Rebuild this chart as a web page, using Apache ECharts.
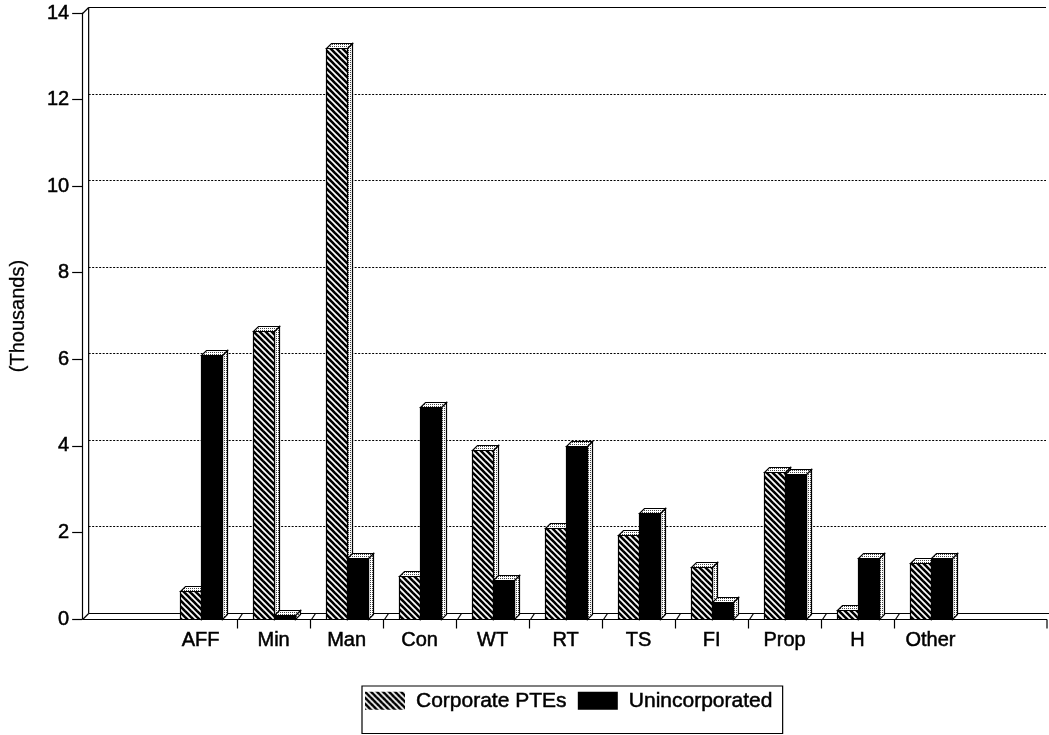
<!DOCTYPE html>
<html>
<head>
<meta charset="utf-8">
<title>Corporate PTEs and Unincorporated by industry</title>
<script src="https://cdn.jsdelivr.net/npm/echarts@6.0.0/dist/echarts.min.js"></script>
<style>
  html, body { margin: 0; padding: 0; background: #fff; }
  #chart { width: 1049px; height: 735px; }
</style>
</head>
<body>
<div id="chart"></div>
<script>
// Industry categories (blank slots pad both ends of the floor)
const categories = ['', 'AFF', 'Min', 'Man', 'Con', 'WT', 'RT', 'TS', 'FI', 'Prop', 'H', 'Other', ''];

// Values in thousands
const corporatePTEs = [0.65, 6.65, 13.2, 1.0, 3.9, 2.1, 1.95, 1.2, 3.4, 0.2, 1.3];
const unincorporated = [6.1, 0.1, 1.4, 4.9, 0.9, 4.0, 2.45, 0.4, 3.35, 1.4, 1.4];

// Value axis ticks
const yTicks = [0, 2, 4, 6, 8, 10, 12, 14];

const seriesNames = ['Corporate PTEs', 'Unincorporated'];

const FONT = '"Liberation Sans", Arial, Helvetica, sans-serif';
const TEXT = { fontFamily: FONT, color: '#000', textBorderColor: '#000', textBorderWidth: 0.5 };
const DEPTH = 6;        // depth of the back wall / floor
const AXIS_OFFSET = 9;  // front value axis sits left of the plotting area
const BAR_W = 21;
const BAR_D = 5;        // depth of each bar

// Diagonal hatch fill used by the corporate bars
function makeHatch() {
  const c = document.createElement('canvas');
  c.width = 6; c.height = 6;
  const g = c.getContext('2d');
  g.fillStyle = '#fff';
  g.fillRect(0, 0, 6, 6);
  g.strokeStyle = '#000';
  g.lineWidth = 2.6;
  for (let k = -6; k <= 6; k += 6) {
    g.beginPath();
    g.moveTo(k - 1, -1);
    g.lineTo(k + 7, 7);
    g.stroke();
  }
  return { image: c, repeat: 'repeat' };
}

// Light stipple used on the top and side faces of each bar
function makeStipple() {
  const c = document.createElement('canvas');
  c.width = 2; c.height = 2;
  const g = c.getContext('2d');
  g.fillStyle = '#fff';
  g.fillRect(0, 0, 2, 2);
  g.fillStyle = '#444';
  g.fillRect(0, 0, 1, 1);
  return { image: c, repeat: 'repeat' };
}

const hatch = makeHatch();
const stipple = makeStipple();

function toPairs(values) {
  return values.map((v, i) => [i + 1, v]);
}

// Draws one 3D bar: right side face, top face and front face
function barRenderer(shift, frontFill) {
  return function (params, api) {
    const idx = api.value(0);
    const v = api.value(1);
    const base = api.coord([idx, 0]);
    const top = api.coord([idx, v]);
    const x0 = Math.round(base[0] + shift) + 0.5;
    const by = Math.round(base[1]) + 0.5;
    const ty = Math.round(top[1]) + 0.5;
    const x1 = x0 + BAR_W;
    const line = { stroke: '#000', lineWidth: 1.2 };
    return {
      type: 'group',
      children: [
        {
          type: 'polygon',
          shape: { points: [[x1, ty], [x1 + BAR_D, ty - BAR_D], [x1 + BAR_D, by - BAR_D], [x1, by]] },
          style: Object.assign({ fill: stipple }, line)
        },
        {
          type: 'polygon',
          shape: { points: [[x0, ty], [x0 + BAR_D, ty - BAR_D], [x1 + BAR_D, ty - BAR_D], [x1, ty]] },
          style: Object.assign({ fill: stipple }, line)
        },
        {
          type: 'rect',
          shape: { x: x0, y: ty, width: BAR_W, height: by - ty },
          style: Object.assign({ fill: frontFill }, line)
        }
      ]
    };
  };
}

// Back wall, floor, dotted grid lines and floor ticks
function frameRenderer(params, api) {
  const cs = params.coordSys;
  const fx = cs.x - AXIS_OFFSET + 0.5;
  const y0 = Math.round(cs.y + cs.height) + 0.5;
  const yTop = Math.round(api.coord([0, yTicks[yTicks.length - 1]])[1]) + 0.5;
  const right = cs.x + cs.width + DEPTH;
  const solid = { stroke: '#000', lineWidth: 1.2 };
  const dotted = { stroke: '#000', lineWidth: 1.2, lineDash: [2, 1.5] };
  const seg = (x1, y1, x2, y2, style) => ({
    type: 'line', shape: { x1, y1, x2, y2 }, style
  });
  const children = [];

  // dotted grid lines on the back wall
  yTicks.slice(1, -1).forEach(t => {
    const y = Math.round(api.coord([0, t])[1]) + 0.5 - DEPTH;
    children.push(seg(fx + DEPTH, y, right, y, dotted));
  });

  // top edge of back wall and left wall
  children.push(seg(fx + DEPTH, yTop - DEPTH, right, yTop - DEPTH, solid));
  children.push(seg(fx, yTop, fx + DEPTH, yTop - DEPTH, solid));
  children.push(seg(fx + DEPTH, yTop - DEPTH, fx + DEPTH, y0 - DEPTH, solid));

  // floor
  children.push(seg(fx + DEPTH, y0 - DEPTH, right + 3, y0 - DEPTH, solid));
  children.push(seg(fx, y0, right + 1, y0, solid));
  children.push(seg(fx, y0, fx + DEPTH, y0 - DEPTH, solid));

  // category boundaries between industries
  const slot = api.size([1, 0])[0];
  for (let i = 2; i < categories.length - 1; i++) {
    const x = Math.round(api.coord([i, 0])[0] - slot / 2) + 0.5;
    children.push(seg(x + 1, y0, x + DEPTH - 1, y0 - DEPTH, solid));
    children.push(seg(x, y0, x, y0 + 9, solid));
  }
  children.push(seg(right + 1, y0, right + 1, y0 + 9, solid));

  return { type: 'group', children };
}

const chart = echarts.init(document.getElementById('chart'), null, { renderer: 'canvas' });

chart.setOption({
  animation: false,
  backgroundColor: '#fff',
  textStyle: { fontFamily: FONT, color: '#000' },
  grid: { left: 91, right: 9, top: 13, bottom: 116 },
  legend: {
    left: 362,
    top: 686,
    orient: 'horizontal',
    padding: [4, 10, 22, 3],
    itemGap: 11,
    itemWidth: 40,
    itemHeight: 18,
    borderColor: '#000',
    borderWidth: 1.2,
    borderRadius: 0,
    selectedMode: false,
    icon: 'rect',
    textStyle: Object.assign({ fontSize: 21, padding: [0, 0, 0, 6] }, TEXT),
    data: [
      { name: seriesNames[0], itemStyle: { color: hatch, borderWidth: 0 } },
      { name: seriesNames[1], itemStyle: { color: '#000', borderWidth: 0 } }
    ]
  },
  xAxis: {
    type: 'category',
    data: categories,
    boundaryGap: true,
    axisLine: { show: false },
    axisTick: { show: false },
    splitLine: { show: false },
    axisLabel: Object.assign({ fontSize: 20, margin: 11, interval: 0 }, TEXT)
  },
  yAxis: {
    type: 'value',
    min: yTicks[0],
    max: yTicks[yTicks.length - 1],
    interval: 2,
    offset: AXIS_OFFSET,
    name: '(Thousands)',
    nameLocation: 'middle',
    nameRotate: 90,
    nameGap: 54,
    nameTextStyle: Object.assign({ fontSize: 20, textBorderWidth: 0.3 }, { fontFamily: FONT, color: '#000', textBorderColor: '#000' }),
    axisLine: { show: true, lineStyle: { color: '#000', width: 1.2 } },
    axisTick: { show: true, length: 10, lineStyle: { color: '#000', width: 1.2 } },
    axisLabel: Object.assign({ fontSize: 20, margin: 13 }, TEXT),
    splitLine: { show: false }
  },
  series: [
    {
      type: 'custom',
      name: 'frame',
      silent: true,
      z: 1,
      renderItem: frameRenderer,
      data: [[0, 0]]
    },
    {
      type: 'custom',
      name: seriesNames[0],
      z: 2,
      silent: true,
      itemStyle: { color: hatch },
      renderItem: barRenderer(-BAR_W, hatch),
      data: toPairs(corporatePTEs)
    },
    {
      type: 'custom',
      name: seriesNames[1],
      z: 2,
      silent: true,
      itemStyle: { color: '#000' },
      renderItem: barRenderer(0, '#000'),
      data: toPairs(unincorporated)
    }
  ]
});
</script>
</body>
</html>
